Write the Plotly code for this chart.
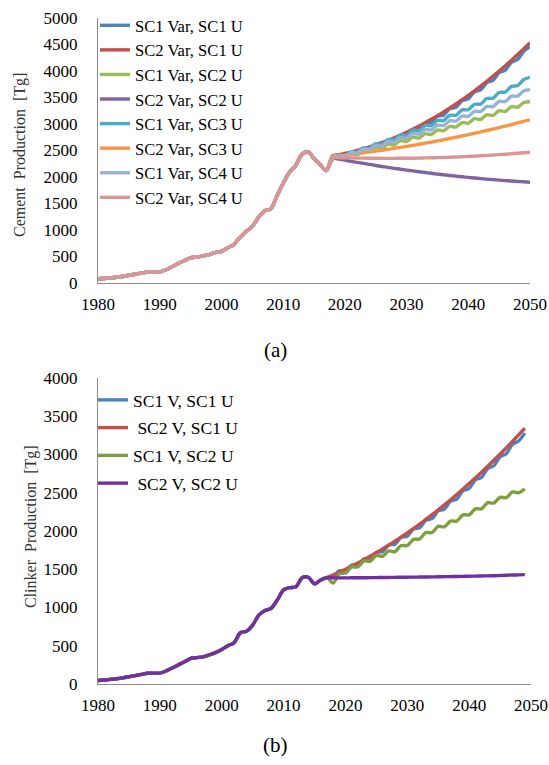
import plotly.graph_objects as go

# ---------------- data: (a) cement production ----------------
hist_years_a = list(range(1980, 2018))
hist_cement = [80, 85, 96, 108, 123, 146, 166, 186, 205, 210, 209, 250, 308, 367, 421, 476, 491, 512,
               537, 573, 597, 661, 725, 862, 970, 1069, 1237, 1361, 1400, 1644, 1880, 2085, 2210, 2420,
               2476, 2350, 2230, 2120]
proj_years_a = list(range(2018, 2051))
sc1var_sc1u = [2350, 2399, 2375, 2454, 2436, 2521, 2508, 2598, 2590, 2686, 2684, 2785, 2788, 2895, 2904, 3016,
               3030, 3147, 3167, 3290, 3315, 3443, 3474, 3607, 3644, 3783, 3824, 3969, 4016, 4165, 4218, 4373, 4456]
sc2var_sc1u = [2400, 2421, 2445, 2471, 2501, 2533, 2569, 2608, 2649, 2694, 2741, 2791, 2845, 2901, 2960, 3023,
               3088, 3156, 3227, 3301, 3378, 3458, 3541, 3627, 3715, 3807, 3902, 3999, 4100, 4204, 4311, 4420, 4534]
sc1var_sc2u = [2330, 2383, 2362, 2441, 2420, 2500, 2480, 2560, 2541, 2622, 2604, 2686, 2668, 2751, 2734, 2818,
               2802, 2886, 2871, 2956, 2941, 3027, 3013, 3100, 3086, 3174, 3161, 3250, 3238, 3327, 3316, 3406, 3421]
sc2var_sc2u = [2360, 2338, 2317, 2296, 2276, 2256, 2237, 2218, 2199, 2181, 2164, 2147, 2130, 2115, 2099, 2084,
               2070, 2055, 2042, 2029, 2016, 2004, 1992, 1981, 1970, 1960, 1950, 1941, 1932, 1924, 1916, 1909, 1902]
sc1var_sc3u = [2350, 2408, 2393, 2478, 2464, 2551, 2539, 2628, 2618, 2708, 2700, 2792, 2786, 2880, 2875, 2971,
               2968, 3066, 3065, 3164, 3165, 3266, 3269, 3372, 3376, 3481, 3487, 3594, 3602, 3710, 3727, 3840, 3881]
sc2var_sc3u = [2390, 2402, 2415, 2429, 2443, 2458, 2473, 2489, 2505, 2522, 2540, 2558, 2577, 2597, 2617, 2638,
               2659, 2681, 2703, 2726, 2750, 2774, 2799, 2825, 2851, 2878, 2905, 2933, 2961, 2990, 3020, 3050, 3078]
sc1var_sc4u = [2350, 2405, 2385, 2467, 2449, 2531, 2515, 2599, 2583, 2669, 2655, 2742, 2729, 2818, 2807, 2896,
               2887, 2978, 2969, 3062, 3055, 3149, 3143, 3239, 3235, 3331, 3329, 3427, 3425, 3525, 3525, 3626, 3645]
sc2var_sc4u = [2370, 2366, 2363, 2360, 2358, 2356, 2354, 2353, 2352, 2352, 2352, 2353, 2354, 2355, 2357, 2360,
               2362, 2366, 2369, 2373, 2378, 2383, 2388, 2394, 2401, 2408, 2415, 2422, 2430, 2439, 2448, 2457, 2467]

names_a = ["SC1 Var, SC1 U", "SC2 Var, SC1 U", "SC1 Var, SC2 U", "SC2 Var, SC2 U",
           "SC1 Var, SC3 U", "SC2 Var, SC3 U", "SC1 Var, SC4 U", "SC2 Var, SC4 U"]
series_a = [sc1var_sc1u, sc2var_sc1u, sc1var_sc2u, sc2var_sc2u,
            sc1var_sc3u, sc2var_sc3u, sc1var_sc4u, sc2var_sc4u]
colors_a = ["#4F81BD", "#C0504D", "#9BBB59", "#8064A2", "#4BACC6", "#F79646", "#95B3D7", "#D99694"]

# ---------------- data: (b) clinker production ----------------
hist_years_b = list(range(1980, 2018))
hist_clinker = [45, 52, 60, 68, 80, 95, 110, 125, 140, 142, 142, 170, 210, 250, 290, 335, 345, 355, 380, 410,
                450, 500, 540, 670, 690, 770, 900, 960, 990, 1100, 1230, 1260, 1270, 1390, 1395, 1310, 1360, 1390]
proj_years_b = list(range(2018, 2050))
sc1v_sc1u = [1405, 1480, 1476, 1554, 1554, 1635, 1638, 1723, 1729, 1817, 1827, 1918, 1931, 2026, 2043, 2141,
             2161, 2263, 2286, 2391, 2418, 2526, 2556, 2668, 2701, 2816, 2853, 2971, 3011, 3133, 3176, 3279]
sc2v_sc1u = [1425, 1462, 1500, 1540, 1582, 1625, 1670, 1717, 1765, 1815, 1867, 1920, 1975, 2032, 2091, 2151,
             2213, 2277, 2342, 2409, 2478, 2548, 2620, 2694, 2769, 2846, 2925, 3005, 3087, 3171, 3256, 3343]
sc1v_sc2u = [1320, 1440, 1450, 1530, 1530, 1610, 1605, 1680, 1670, 1740, 1730, 1810, 1810, 1890, 1895, 1980,
             1980, 2060, 2055, 2130, 2130, 2210, 2210, 2290, 2290, 2370, 2365, 2440, 2435, 2510, 2500, 2550]
sc2v_sc2u = [1388, 1387, 1387, 1388, 1388, 1389, 1390, 1391, 1392, 1393, 1394, 1395, 1396, 1397, 1398, 1399,
             1400, 1402, 1403, 1404, 1406, 1407, 1409, 1410, 1412, 1414, 1416, 1418, 1421, 1424, 1427, 1430]

names_b = ["SC1 V, SC1 U", "\u00a0SC2 V, SC1 U", "SC1 V, SC2 U", "\u00a0SC2 V, SC2 U"]
series_b = [sc1v_sc1u, sc2v_sc1u, sc1v_sc2u, sc2v_sc2u]
colors_b = ["#4F81BD", "#C0504D", "#7F9F3F", "#7030A0"]

x_ticks = [1980, 1990, 2000, 2010, 2020, 2030, 2040, 2050]

FONT = "Liberation Serif, Times New Roman, serif"
W, H = 549, 765

fig = go.Figure()
for i, (nm, proj, col) in enumerate(zip(names_a, series_a, colors_a)):
    fig.add_trace(go.Scatter(
        x=hist_years_a + proj_years_a, y=hist_cement + proj, name=nm, mode="lines",
        line=dict(color=col, width=3.4, shape="spline", smoothing=0.8),
        xaxis="x", yaxis="y", legend="legend", legendgroup="a%d" % i))
for i, (nm, proj, col) in enumerate(zip(names_b, series_b, colors_b)):
    fig.add_trace(go.Scatter(
        x=hist_years_b + proj_years_b, y=hist_clinker + proj, name=nm, mode="lines",
        line=dict(color=col, width=3.4, shape="spline", smoothing=0.8),
        xaxis="x2", yaxis="y2", legend="legend2", legendgroup="b%d" % i))

axis_common = dict(showgrid=False, zeroline=False, showline=True, linecolor="#8C8C8C", linewidth=1,
                   ticks="", automargin=False, tickfont=dict(family=FONT, size=17, color="black"))

fig.update_layout(
    template="none",
    width=W, height=H, margin=dict(l=0, r=0, t=0, b=0, pad=0), autosize=False,
    paper_bgcolor="white", plot_bgcolor="white", showlegend=True,
    xaxis=dict(domain=[98 / W, 530 / W], anchor="y", range=[1980, 2050], tickvals=x_ticks,
               ticklabelstandoff=6, **axis_common),
    yaxis=dict(domain=[(H - 283) / H, (H - 18) / H], anchor="x", range=[0, 5000], dtick=500,
               ticklabelstandoff=16, **axis_common),
    xaxis2=dict(domain=[98 / W, 531 / W], anchor="y2", range=[1980, 2050], tickvals=x_ticks,
                ticklabelstandoff=6, **axis_common),
    yaxis2=dict(domain=[(H - 684) / H, (H - 378) / H], anchor="x2", range=[0, 4000], dtick=500,
                ticklabelstandoff=16, **axis_common),
    legend=dict(x=95 / W, y=(H - 8) / H, xanchor="left", yanchor="top", bgcolor="rgba(0,0,0,0)",
                font=dict(family=FONT, size=16.6, color="black"), itemwidth=30, tracegroupgap=0),
    legend2=dict(x=93 / W, y=(H - 382) / H, xanchor="left", yanchor="top", bgcolor="rgba(0,0,0,0)",
                 font=dict(family=FONT, size=17.5, color="black"), itemwidth=30, tracegroupgap=2),
    annotations=[
        dict(text="Cement\u00a0\u00a0Production\u00a0\u00a0[Tg]", x=20 / W, y=(H - 155) / H, xref="paper",
             yref="paper", textangle=-90, showarrow=False, xanchor="center", yanchor="middle",
             font=dict(family=FONT, size=16, color="#333333")),
        dict(text="Clinker\u00a0\u00a0Production\u00a0\u00a0[Tg]", x=31 / W, y=(H - 527) / H, xref="paper",
             yref="paper", textangle=-90, showarrow=False, xanchor="center", yanchor="middle",
             font=dict(family=FONT, size=16, color="#333333")),
        dict(text="(a)", x=275 / W, y=(H - 350) / H, xref="paper", yref="paper", showarrow=False,
             xanchor="center", yanchor="middle", font=dict(family=FONT, size=21, color="black")),
        dict(text="(b)", x=275 / W, y=(H - 745) / H, xref="paper", yref="paper", showarrow=False,
             xanchor="center", yanchor="middle", font=dict(family=FONT, size=21, color="black")),
    ],
)

fig.write_html("out.html", config={"responsive": False, "displayModeBar": False},
               post_script="document.body.style.margin='0';document.body.style.overflow='hidden';")
